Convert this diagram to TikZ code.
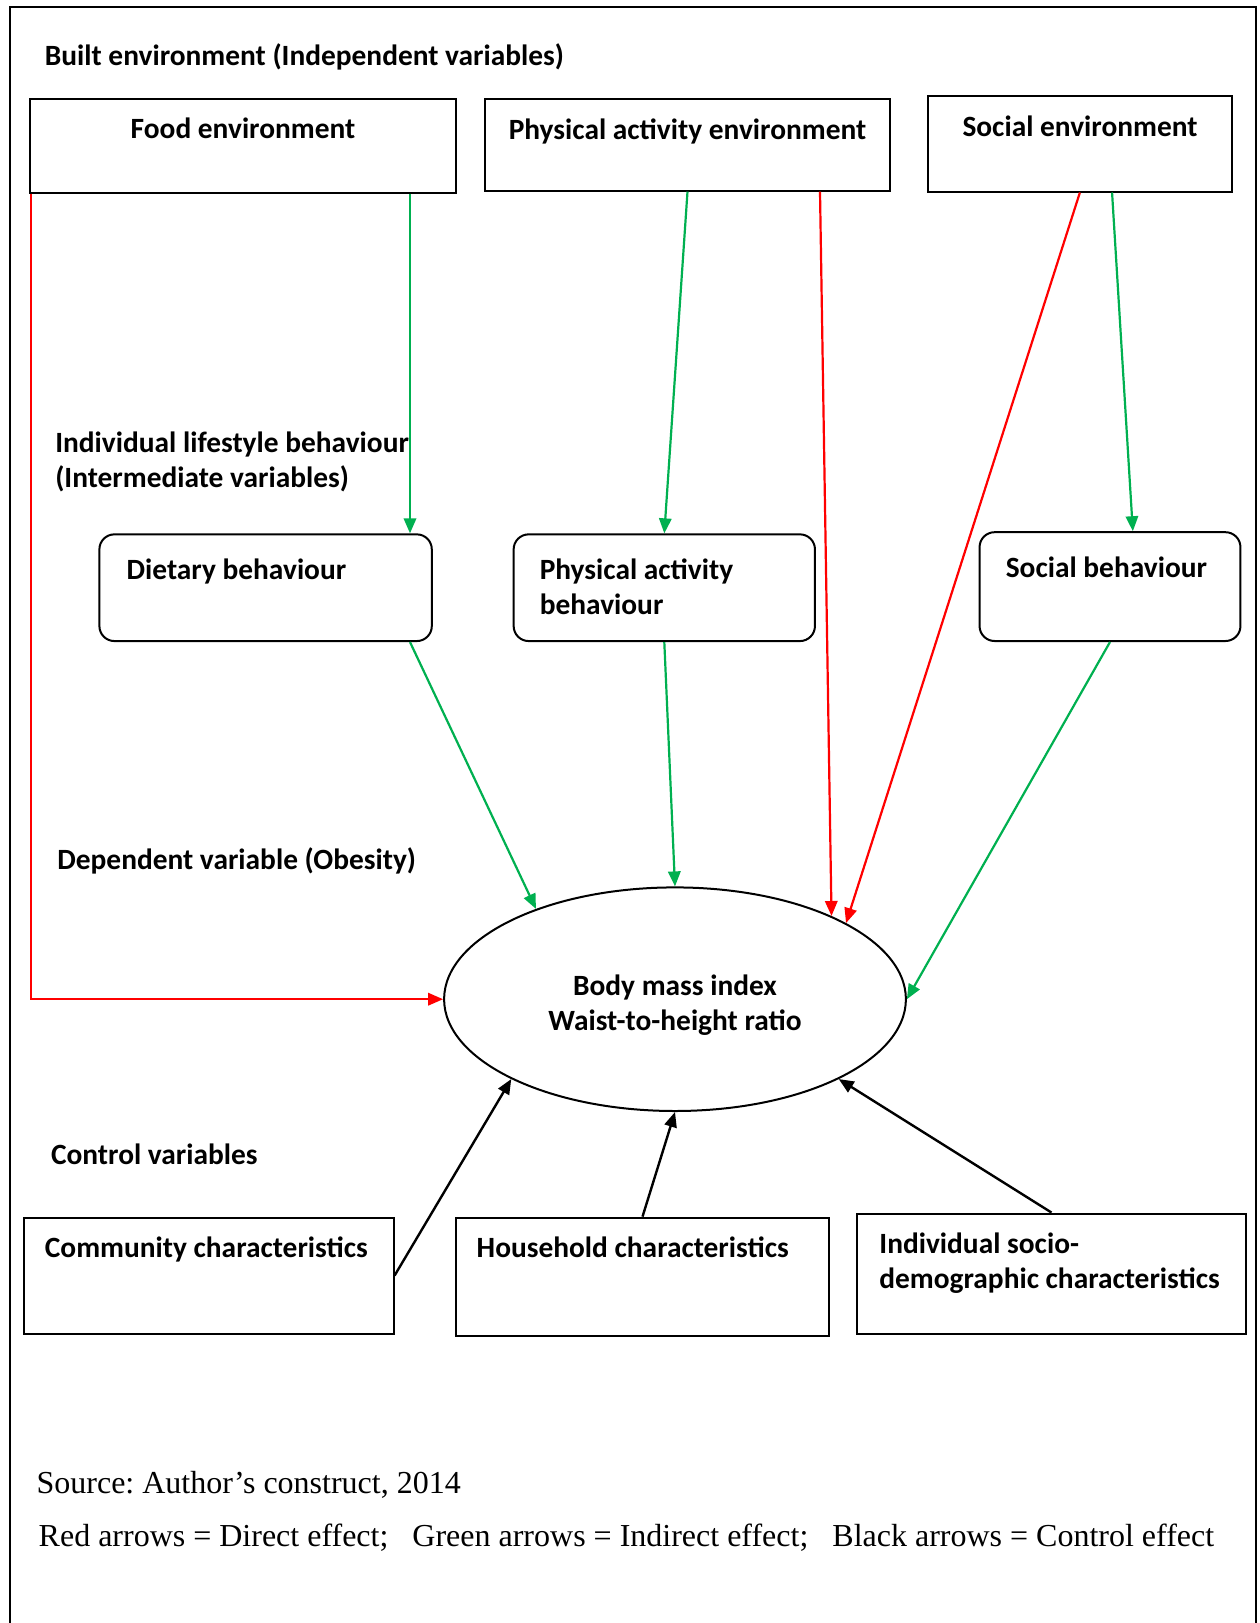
\documentclass[tikz,border=0pt]{standalone}
\usepackage{fontspec}
\setmainfont{Liberation Serif}
\newfontfamily\calib{Carlito}
\usetikzlibrary{arrows.meta,shapes.geometric,calc}
\definecolor{wgreen}{RGB}{0,176,80}
\definecolor{wred}{RGB}{255,0,0}
\frenchspacing
\tikzset{
  lab/.style={font=\calib\bfseries\fontsize{14.7}{17.5}\selectfont, inner sep=0pt, align=left},
  src/.style={font=\fontsize{16}{19}\selectfont, inner sep=0pt},
  sqbox/.style={draw, line width=1pt, rectangle, inner sep=0pt},
  rdbox/.style={draw, line width=1pt, rectangle, rounded corners=7.5pt, inner sep=0pt},
  conn/.style={line width=1.1pt, -{Triangle[length=7.5pt,width=6.2pt]}},
  rarrow/.style={conn, wred},
  garrow/.style={conn, wgreen},
  karrow/.style={conn, black, line width=1.2pt},
}
\begin{document}
\begin{tikzpicture}[x=0.5pt,y=-0.5pt]
\useasboundingbox (0,0) rectangle (1259,1623);
% frame
\draw[line width=1pt] (10.4,1625) -- (10.4,7.2) -- (1256,7.2) -- (1256,1625);

\node[lab, anchor=base west] (title) at (44.5,65) {Built environment (Independent variables)};

% top boxes
\node[sqbox, minimum width=212.8pt, minimum height=46.6pt] (food) at (242.8,146) {};
\node[sqbox, minimum width=202.9pt, minimum height=45.55pt] (paenv) at (687.5,145) {};
\node[sqbox, minimum width=152.15pt, minimum height=47.6pt] (socenv) at (1079.9,143.9) {};
\node[lab, anchor=base] (foodt) at (243,138) {Food environment};
\node[lab, anchor=base] (paenvt) at (687.5,139.4) {Physical activity environment};
\node[lab, anchor=base] (socenvt) at (1080,136) {Social environment};

% intermediate
\node[lab, anchor=base west] (ilb) at (54.9,487) {Individual lifestyle behaviour\\(Intermediate variables)};
\node[rdbox, minimum width=166.2pt, minimum height=53.35pt] (diet) at (265.6,587.7) {};
\node[rdbox, minimum width=150.65pt, minimum height=53.35pt] (pabeh) at (664.3,587.7) {};
\node[rdbox, minimum width=130.45pt, minimum height=54.4pt] (socbeh) at (1110,586.6) {};
\node[lab, anchor=base west] (dietT) at (126.3,579.5) {Dietary behaviour};
\node[lab, anchor=base west] (pabehT) at (539.4,614.7) {Physical activity\\behaviour};
\node[lab, anchor=base west] (socbehT) at (1005.4,577.4) {Social behaviour};

% dependent
\node[lab, anchor=base west] (dep) at (57,869.4) {Dependent variable (Obesity)};
\node[draw, line width=1pt, ellipse, minimum width=230.9pt, minimum height=111.8pt, inner sep=0pt] (bmi) at (675,999.2) {};
\node[lab, align=center] (bmiT) at (675,1005.5) {Body mass index\\Waist-to-height ratio};

% control
\node[lab, anchor=base west] (ctrl) at (50.7,1164.5) {Control variables};
\node[sqbox, minimum width=184.85pt, minimum height=58pt] (comm) at (208.7,1275.6) {};
\node[sqbox, minimum width=186.9pt, minimum height=59.05pt] (house) at (642.5,1276.7) {};
\node[sqbox, minimum width=194.15pt, minimum height=60.05pt] (indiv) at (1051.5,1273.6) {};
\node[lab, anchor=base west] (commT) at (44.5,1257.7) {Community characteristics};
\node[lab, anchor=base west] (houseT) at (476.3,1257.7) {Household characteristics};
\node[lab, anchor=base west] (indivT) at (879,1288.7) {Individual socio-\\demographic characteristics};

% source and legend
\node[src, anchor=base west] (source) at (36.2,1493) {Source: Author’s construct, 2014};
\node[src, anchor=base west] (legend) at (38.3,1546.5) {Red arrows = Direct effect;\ \ \ Green arrows = Indirect effect;\ \ \ Black arrows = Control effect};

% red arrows
\draw[rarrow] ($(food.south west)+(2,0)$) |- (bmi.west);
\draw[rarrow] ($(paenv.south west)+(336.4,0)$) -- (bmi.28.5);
\draw[rarrow] (socenv.south) -- (bmi.24.6);
% green arrows
\draw[garrow] ($(food.south west)+(381,0)$) -- ($(diet.north west)+(311.6,0)$);
\draw[garrow] (paenv.south) -- (pabeh.north);
\draw[garrow] ($(socenv.south west)+(185.3,0)$) -- ($(socbeh.north west)+(154.3,0)$);
\draw[garrow] ($(diet.south west)+(311.6,0)$) -- (bmi.147.3);
\draw[garrow] (pabeh.south) -- (bmi.north);
\draw[garrow] (socbeh.south) -- (bmi.east);
% black arrows
\draw[karrow] ($(comm.north east)+(0,59)$) -- (bmi.206);
\draw[karrow] (house.north) -- (bmi.south);
\draw[karrow] (indiv.north) -- (bmi.334);
\end{tikzpicture}
\end{document}
